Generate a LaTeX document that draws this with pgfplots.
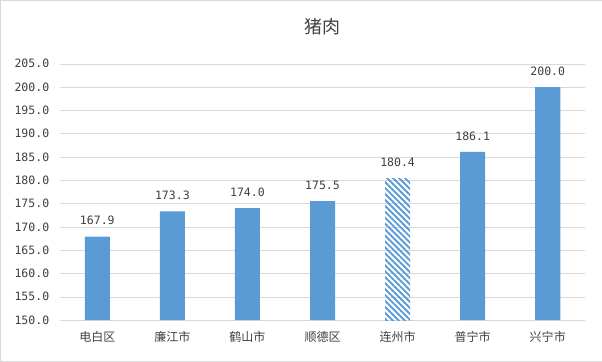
\documentclass[border=0pt]{standalone}
\usepackage{pgfplots}
\pgfplotsset{compat=1.18}
\usepackage{fontspec}
\setmainfont{Noto Sans CJK SC}
\newfontfamily\numfont{DejaVu Sans Mono}
\usetikzlibrary{patterns.meta}
\definecolor{barblue}{HTML}{5B9BD5}
\definecolor{txt}{HTML}{404040}
\definecolor{gridc}{HTML}{D9D9D9}
\begin{document}
\begin{tikzpicture}
\begin{axis}[
  scale only axis, width=525pt, height=256pt,
  xmin=-0.5, xmax=6.5, ymin=150, ymax=205,
  ytick={150,155,...,205},
  xtick={0,...,6},
  xticklabels={电白区,廉江市,鹤山市,顺德区,连州市,普宁市,兴宁市},
  axis line style={draw=none},
  ymajorgrids, grid style={gridc},
  major tick length=0pt,
  tick style={draw=none},
  /pgf/number format/assume math mode=true,
  yticklabel style={/pgf/number format/fixed,/pgf/number format/fixed zerofill,/pgf/number format/precision=1,text=txt,font=\numfont\fontsize{11.5}{13}\selectfont,xshift=-7pt},
  xticklabel style={text=txt,font=\fontsize{12}{14}\selectfont,yshift=-8pt},
  ybar, bar width=25pt,
  nodes near coords,
  nodes near coords style={text=txt,font=\numfont\fontsize{11.5}{13}\selectfont,/pgf/number format/fixed,/pgf/number format/fixed zerofill,/pgf/number format/precision=1,yshift=8pt},
  clip=false,
]
\draw[gridc] ([xshift=-59.5pt,yshift=-41.5pt]rel axis cs:0,0) rectangle ([xshift=16.5pt,yshift=63.5pt]rel axis cs:1,1);
\node[text=txt,font=\fontsize{18}{21}\selectfont] at ([yshift=37pt]rel axis cs:0.5,1) {猪肉};
\draw[gridc] (axis cs:-0.5,150) -- (axis cs:6.5,150);
\addplot[fill=barblue,draw=none,bar shift=0pt] coordinates {(0,167.9) (1,173.3) (2,174.0) (3,175.5) (5,186.1) (6,200.0)};
\addplot[pattern={Lines[angle=-45,distance=4.2pt,line width=1.9pt]},pattern color=barblue,draw=none,bar shift=0pt] coordinates {(4,180.4)};
\end{axis}
\end{tikzpicture}
\end{document}
